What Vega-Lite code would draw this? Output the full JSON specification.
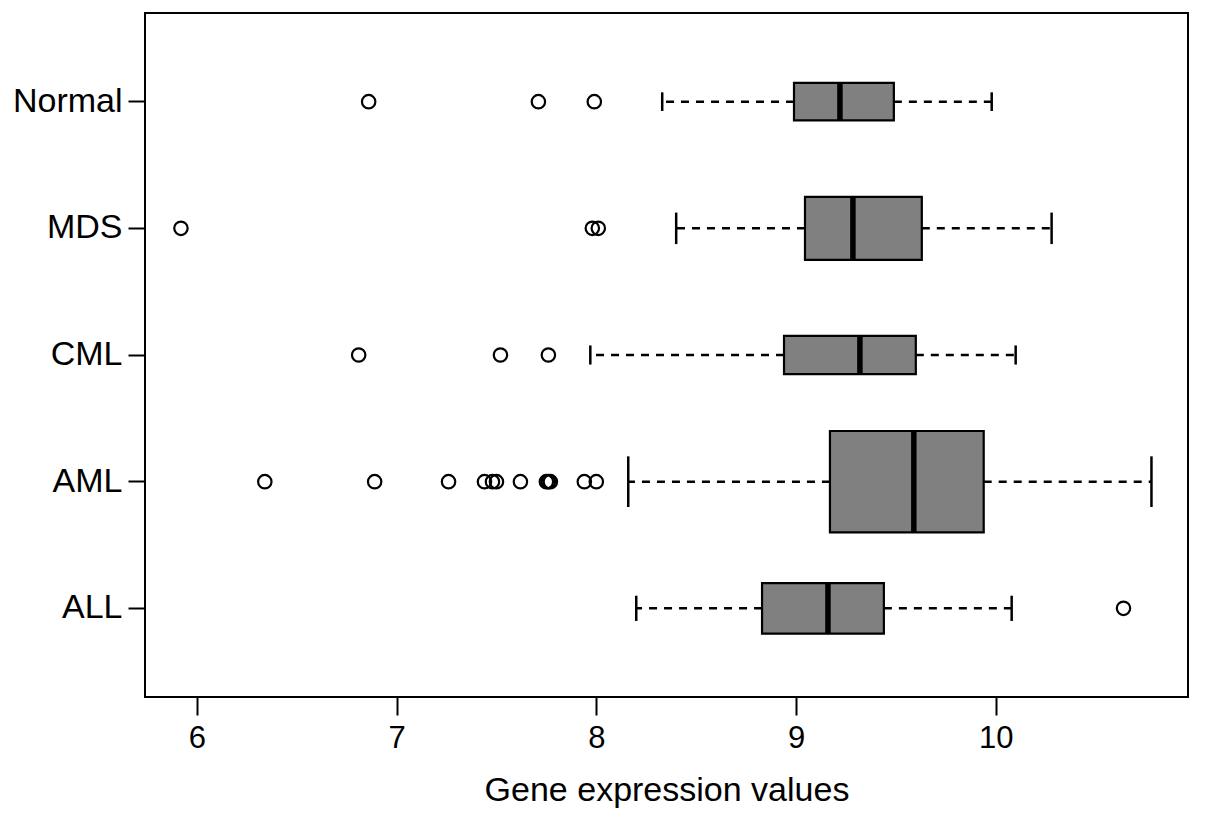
{
  "$schema": "https://vega.github.io/schema/vega-lite/v6.json",
  "autosize": {"type": "none"},
  "padding": {"left": 145, "top": 13, "right": 17, "bottom": 126},
  "width": 1043,
  "height": 684,
  "background": "white",
  "config": {
    "view": {"stroke": "black", "strokeWidth": 2},
    "font": "Liberation Sans",
    "axis": {"labelColor": "black", "titleColor": "black", "tickColor": "black", "tickWidth": 2, "domain": false, "grid": false, "labelFont": "Liberation Sans", "titleFont": "Liberation Sans", "titleFontWeight": "normal"}
  },
  "datasets": {
    "boxes": [
      {"group": "Normal", "lo": 8.33, "q1": 8.99, "median": 9.22, "q3": 9.49, "hi": 9.98, "n": 74},
      {"group": "MDS", "lo": 8.40, "q1": 9.045, "median": 9.285, "q3": 9.63, "hi": 10.28, "n": 210},
      {"group": "CML", "lo": 7.97, "q1": 8.94, "median": 9.32, "q3": 9.60, "hi": 10.10, "n": 77},
      {"group": "AML", "lo": 8.16, "q1": 9.17, "median": 9.59, "q3": 9.94, "hi": 10.78, "n": 542},
      {"group": "ALL", "lo": 8.20, "q1": 8.83, "median": 9.16, "q3": 9.44, "hi": 10.08, "n": 135}
    ],
    "outliers": [
      {"group": "Normal", "value": 6.86},
      {"group": "Normal", "value": 7.71},
      {"group": "Normal", "value": 7.99},
      {"group": "MDS", "value": 5.92},
      {"group": "MDS", "value": 7.98},
      {"group": "MDS", "value": 8.01},
      {"group": "CML", "value": 6.81},
      {"group": "CML", "value": 7.52},
      {"group": "CML", "value": 7.76},
      {"group": "AML", "value": 6.34},
      {"group": "AML", "value": 6.89},
      {"group": "AML", "value": 7.26},
      {"group": "AML", "value": 7.44},
      {"group": "AML", "value": 7.48},
      {"group": "AML", "value": 7.50},
      {"group": "AML", "value": 7.62},
      {"group": "AML", "value": 7.75},
      {"group": "AML", "value": 7.76},
      {"group": "AML", "value": 7.77},
      {"group": "AML", "value": 7.94},
      {"group": "AML", "value": 8.00},
      {"group": "ALL", "value": 10.64}
    ]
  },
  "encoding": {
    "y": {
      "field": "group",
      "type": "nominal",
      "sort": ["Normal", "MDS", "CML", "AML", "ALL"],
      "scale": {"paddingInner": 0, "paddingOuter": 0.2},
      "axis": {"title": null, "labelFontSize": 34, "tickSize": 17, "labelPadding": 6}
    }
  },
  "layer": [
    {
      "data": {"name": "boxes"},
      "mark": {"type": "rule", "stroke": "black", "strokeWidth": 2.5, "strokeDash": [8, 7], "opacity": 1},
      "encoding": {
        "x": {
          "field": "q1", "type": "quantitative",
          "scale": {"domain": [5.74, 10.963], "nice": false, "zero": false},
          "axis": {"values": [6, 7, 8, 9, 10], "format": "d", "title": "Gene expression values", "labelFontSize": 31, "titleFontSize": 34, "tickSize": 18, "labelPadding": 8, "titlePadding": 20}
        },
        "x2": {"field": "lo"}
      }
    },
    {
      "data": {"name": "boxes"},
      "mark": {"type": "rule", "stroke": "black", "strokeWidth": 2.5, "strokeDash": [8, 7], "opacity": 1},
      "encoding": {
        "x": {"field": "q3", "type": "quantitative"},
        "x2": {"field": "hi"}
      }
    },
    {
      "data": {"name": "boxes"},
      "mark": {"type": "bar", "orient": "horizontal", "fill": "#808080", "stroke": "black", "strokeWidth": 2.2, "opacity": 1},
      "encoding": {
        "x": {"field": "q1", "type": "quantitative"},
        "x2": {"field": "q3"},
        "size": {"field": "n", "type": "quantitative", "scale": {"type": "sqrt", "domain": [0, 542], "range": [0, 101.3], "zero": true}, "legend": null}
      }
    },
    {
      "data": {"name": "boxes"},
      "mark": {"type": "tick", "color": "black", "thickness": 5.5, "orient": "vertical", "opacity": 1},
      "encoding": {
        "x": {"field": "median", "type": "quantitative"},
        "size": {"field": "n", "type": "quantitative", "scale": {"type": "sqrt", "domain": [0, 542], "range": [0, 101.3], "zero": true}, "legend": null}
      }
    },
    {
      "data": {"name": "boxes"},
      "mark": {"type": "tick", "color": "black", "thickness": 2.5, "orient": "vertical", "opacity": 1},
      "encoding": {
        "x": {"field": "lo", "type": "quantitative"},
        "size": {"field": "n", "type": "quantitative", "scale": {"type": "sqrt", "domain": [0, 542], "range": [0, 50.65], "zero": true}, "legend": null}
      }
    },
    {
      "data": {"name": "boxes"},
      "mark": {"type": "tick", "color": "black", "thickness": 2.5, "orient": "vertical", "opacity": 1},
      "encoding": {
        "x": {"field": "hi", "type": "quantitative"},
        "size": {"field": "n", "type": "quantitative", "scale": {"type": "sqrt", "domain": [0, 542], "range": [0, 50.65], "zero": true}, "legend": null}
      }
    },
    {
      "data": {"name": "outliers"},
      "mark": {"type": "point", "shape": "circle", "filled": false, "stroke": "black", "strokeWidth": 2.2, "size": 180, "opacity": 1},
      "encoding": {
        "x": {"field": "value", "type": "quantitative"}
      }
    }
  ],
  "resolve": {"scale": {"size": "independent"}}
}
